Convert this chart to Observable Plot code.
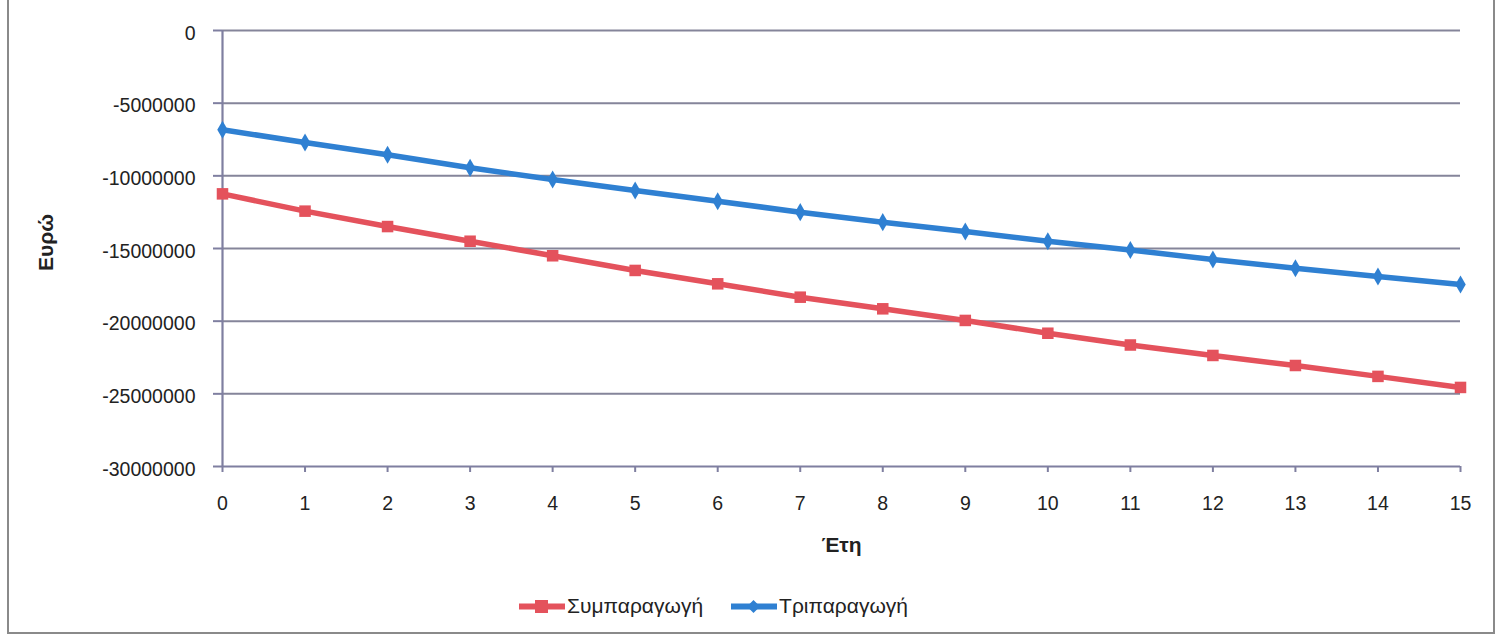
<!DOCTYPE html>
<html>
<head>
<meta charset="utf-8">
<script src="https://cdn.jsdelivr.net/npm/d3@7"></script>
<script src="https://cdn.jsdelivr.net/npm/@observablehq/plot@0.6"></script>
<style>
  html, body { margin: 0; padding: 0; background: #fff; }
  #wrap { position: relative; width: 1508px; height: 642px; overflow: hidden; font-family: "Liberation Sans", Arial, sans-serif; }
  #frame { position: absolute; left: 7px; top: -3px; width: 1488px; height: 637px; border: 2px solid #8a8a8a; box-sizing: border-box; }
  #chart { position: absolute; left: 0; top: 0; }
  #legend { position: absolute; top: 594px; left: 519px; display: flex; align-items: center; font-size: 21px; color: #222; }
  .item { display: flex; align-items: center; margin-right: 28px; }
  .item svg { margin-right: 2px; }
</style>
</head>
<body>
<div id="wrap">
  <div id="frame"></div>
  <div id="chart"></div>
  <div id="legend"></div>
</div>
<script>
const years = [0,1,2,3,4,5,6,7,8,9,10,11,12,13,14,15];
const cogeneration = [-11240000,-12430000,-13490000,-14500000,-15500000,-16510000,-17430000,-18350000,-19150000,-19950000,-20830000,-21640000,-22360000,-23050000,-23800000,-24560000];
const trigeneration = [-6830000,-7710000,-8550000,-9450000,-10250000,-11010000,-11750000,-12500000,-13190000,-13830000,-14500000,-15100000,-15760000,-16360000,-16930000,-17480000];
const seriesNames = ["Συμπαραγωγή", "Τριπαραγωγή"];
const yTicks = [0,-5000000,-10000000,-15000000,-20000000,-25000000,-30000000];
const xLabel = "Έτη";
const yLabel = "Ευρώ";

const colors = {"Συμπαραγωγή": "#e4525c", "Τριπαραγωγή": "#2f80d2"};
const rows = [];
years.forEach((y, i) => {
  rows.push({year: y, value: cogeneration[i], series: seriesNames[0]});
  rows.push({year: y, value: trigeneration[i], series: seriesNames[1]});
});
const red = rows.filter(d => d.series === seriesNames[0]);
const blue = rows.filter(d => d.series === seriesNames[1]);
const axisColor = "#7f7fa0";

const chart = Plot.plot({
  width: 1508,
  height: 585,
  marginLeft: 222,
  marginRight: 48,
  marginTop: 30,
  marginBottom: 119,
  style: {fontFamily: "Liberation Sans, Arial, sans-serif", fontSize: "19.5px", color: "#222", background: "transparent"},
  x: {domain: [0, 15]},
  y: {domain: [-30000000, 0]},
  marks: [
    Plot.ruleY(yTicks.filter(t => t !== -30000000), {stroke: "#85859a", strokeWidth: 2}),
    Plot.ruleX([0], {stroke: axisColor, strokeWidth: 2.2}),
    Plot.ruleY([-30000000], {stroke: axisColor, strokeWidth: 2.2}),
    Plot.axisY({ticks: yTicks, tickFormat: () => "", tickSize: 9, stroke: axisColor, strokeWidth: 2, label: null}),
    Plot.axisY({ticks: yTicks, tickFormat: d => String(d), tickSize: 0, tickPadding: 27, dy: 3, label: null}),
    Plot.axisX({ticks: years, tickFormat: d => String(d), tickSize: 6, tickPadding: 24, stroke: axisColor, strokeWidth: 2, label: null}),
    Plot.text([yLabel], {frameAnchor: "left", textAnchor: "middle", dx: -176, dy: -6, rotate: -90, fontWeight: "bold", fontSize: 21, fill: "#222"}),
    Plot.text([xLabel], {frameAnchor: "bottom", dy: 85, fontWeight: "bold", fontSize: 21, fill: "#222"}),
    Plot.line(red, {x: "year", y: "value", stroke: colors[seriesNames[0]], strokeWidth: 5.5}),
    Plot.line(blue, {x: "year", y: "value", stroke: colors[seriesNames[1]], strokeWidth: 5.5}),
    Plot.dot(red, {x: "year", y: "value", symbol: "square", r: 6.5, fill: colors[seriesNames[0]]}),
    Plot.dot(blue, {x: "year", y: "value", symbol: "diamond", r: 5.5, fill: colors[seriesNames[1]]})
  ]
});
document.getElementById("chart").appendChild(chart);

const legend = document.getElementById("legend");
seriesNames.forEach((name, i) => {
  const item = document.createElement("div");
  item.className = "item";
  const c = colors[name];
  const marker = i === 0
    ? `<rect x="16" y="5" width="13" height="13" fill="${c}"/>`
    : `<path d="M22.5 5 L29 11.5 L22.5 18 L16 11.5 Z" fill="${c}"/>`;
  item.innerHTML = `<svg width="46" height="23"><line x1="0" y1="11.5" x2="46" y2="11.5" stroke="${c}" stroke-width="6"/>${marker}</svg><span>${name}</span>`;
  legend.appendChild(item);
});
</script>
</body>
</html>
